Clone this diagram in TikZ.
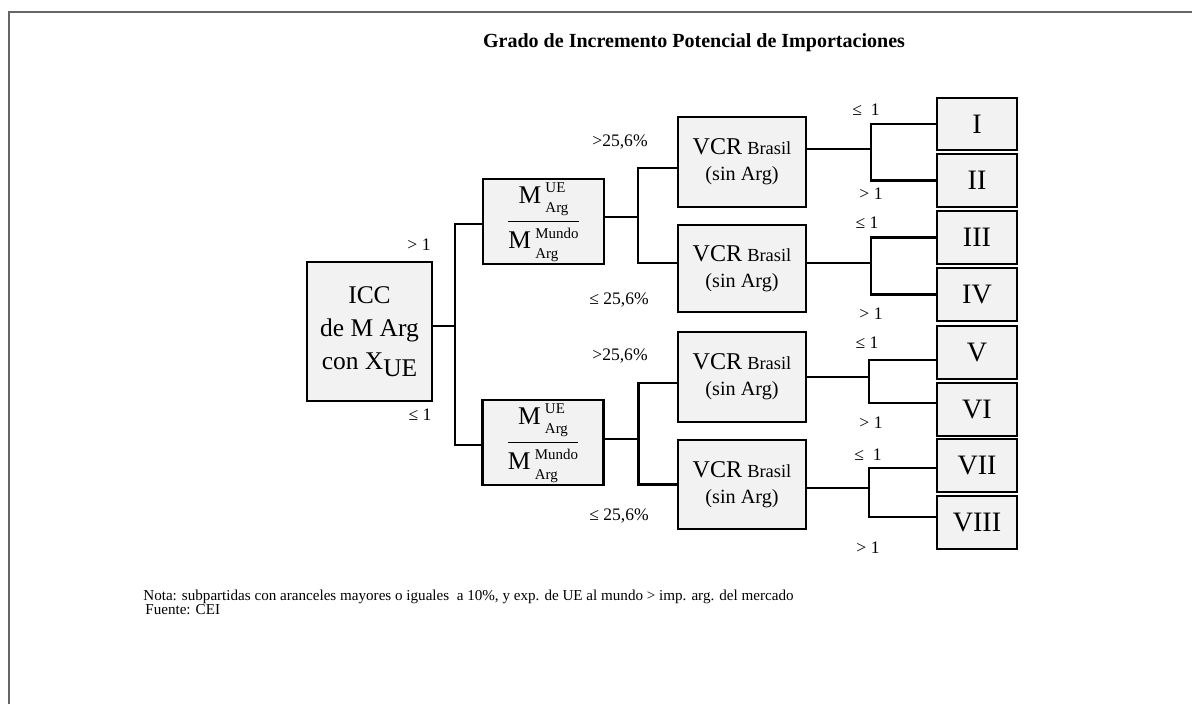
\documentclass[tikz,border=0pt]{standalone}
\usepackage{fontspec}
\setmainfont{Liberation Serif}
\usetikzlibrary{positioning}
\begin{document}
\begin{tikzpicture}[x=0.02cm,y=-0.02cm,line cap=butt,line join=miter,
	caja/.style={draw,fill=black!5,line width=1.2pt,inner sep=0pt,align=center},
	rama/.style={line width=1.2pt},
	etiq/.style={inner sep=0pt,font=\fontsize{10}{12}\selectfont}]
	\useasboundingbox (0,0) rectangle (1192,704);
	\def\Mes#1{M\,\raisebox{0.1ex}{\fontsize{8.5}{11.5}\selectfont\begin{tabular}[c]{@{}l@{}}#1\\Arg\end{tabular}}}
	\def\razon{$\displaystyle\frac{\mbox{\Mes{UE}}}{\mbox{\Mes{Mundo}}}$} % M UE / M Mundo
	\def\vcr{{\fontsize{13.7}{15}\selectfont VCR} {\fontsize{10.5}{15}\selectfont Brasil}\\(sin Arg)}
	%--------- Marco y titulo
	\draw[black!60,line width=0.8pt] (9,704) -- (9,12) -- (1192,12);
	\node[font=\fontsize{11.4}{13}\selectfont\bfseries] (titulo) at (694,43) {Grado de Incremento Potencial de Importaciones};
	%--------- Cajas
	\node[caja,minimum width=2.5cm,minimum height=2.78cm,font=\fontsize{14.5}{19}\selectfont] (icc) at (369.5,331.5)
		{ICC\\de M Arg\\con X\raisebox{-0.55ex}{UE}};
	\node[caja,minimum width=2.42cm,minimum height=1.7cm,font=\fontsize{14.5}{15}\selectfont] (razonA) at (543.5,221.5) {\razon};
	\node[caja,minimum width=2.42cm,minimum height=1.66cm,font=\fontsize{14.5}{15}\selectfont] (razonB) at (543,442.5) {\razon};
	\begin{scope}[every node/.append style={font=\fontsize{11.5}{14.7}\selectfont}]
		\node[caja,minimum width=2.56cm,minimum height=1.8cm] (vcrA) at (742,162) {\vcr};
		\node[caja,minimum width=2.56cm,minimum height=1.74cm] (vcrB) at (742,268.5) {\vcr};
		\node[caja,minimum width=2.56cm,minimum height=1.8cm] (vcrC) at (742,377) {\vcr};
		\node[caja,minimum width=2.56cm,minimum height=1.78cm] (vcrD) at (742,484.5) {\vcr};
	\end{scope}
	\foreach \r/\y in {I/124,II/180.5,III/237.5,IV/294.5,V/352.5,VI/409.5,VII/465.5,VIII/522.5}
		\node[caja,minimum width=1.6cm,minimum height=1.05cm,font=\fontsize{16}{16}\selectfont] (g\r) at (977,\y) {\r};
	%--------- Ramas
	\draw[rama] ([yshift=0.11cm]icc.east) -- ++(22,0) coordinate (b0);
	\draw[rama] ([yshift=-0.05cm]razonA.west) -| (b0) |- ([yshift=-0.05cm]razonB.west);
	\draw[rama] ([yshift=0.09cm]razonA.east) -- ++(33,0) coordinate (b1);
	\draw[rama] ([yshift=-0.12cm]vcrA.west) -| (b1) |- ([yshift=0.11cm]vcrB.west);
	\draw[rama] ([yshift=0.07cm]razonB.east) -- ++(34,0) coordinate (b2);
	\draw[rama] ([yshift=-0.12cm]vcrC.west) -| (b2) |- (vcrD.west);
	\draw[rama] ([yshift=0.26cm]vcrA.east) -- ++(64,0) coordinate (c1);
	\draw[rama] (gI.west) -| (c1) |- (gII.west);
	\draw[rama] ([yshift=0.11cm]vcrB.east) -- ++(64,0) coordinate (c2);
	\draw[rama] (gIII.west) -| (c2) |- (gIV.west);
	\draw[rama] (vcrC.east) -- ++(62,0) coordinate (c3);
	\draw[rama] ([yshift=-0.15cm]gV.west) -| (c3) |- ([yshift=0.13cm]gVI.west);
	\draw[rama] ([yshift=-0.07cm]vcrD.east) -- ++(62,0) coordinate (c4);
	\draw[rama] ([yshift=-0.05cm]gVII.west) -| (c4) |- ([yshift=0.11cm]gVIII.west);
	%--------- Etiquetas
	\node[etiq] (e1) at (419,245) {> 1};
	\node[etiq] (e2) at (420,415) {≤ 1};
	\node[etiq] (p1) at (620,142) {>25,6\%};
	\node[etiq] (p2) at (619,300) {≤ 25,6\%};
	\node[etiq] (p3) at (620,356) {>25,6\%};
	\node[etiq] (p4) at (619,516) {≤ 25,6\%};
	\node[etiq] (r1) at (866,110) {≤\ \ 1};
	\node[etiq] (r2) at (871,194) {> 1};
	\node[etiq] (r3) at (867,223) {≤ 1};
	\node[etiq] (r4) at (871,314) {> 1};
	\node[etiq] (r5) at (867,343) {≤ 1};
	\node[etiq] (r6) at (871,423) {> 1};
	\node[etiq] (r7) at (868,455) {≤\ \ 1};
	\node[etiq] (r8) at (868,548) {> 1};
	%--------- Nota
	\node[anchor=west,inner sep=0pt,font=\fontsize{8.6}{9.5}\selectfont] (nota) at (143,597) {Nota: subpartidas con aranceles mayores o iguales\ \ a 10\%, y exp. de UE al mundo > imp. arg. del mercado};
	\node[anchor=west,inner sep=0pt,font=\fontsize{8.6}{9.5}\selectfont] (fuente) at (145,610) {Fuente: CEI};
\end{tikzpicture}
\end{document}
